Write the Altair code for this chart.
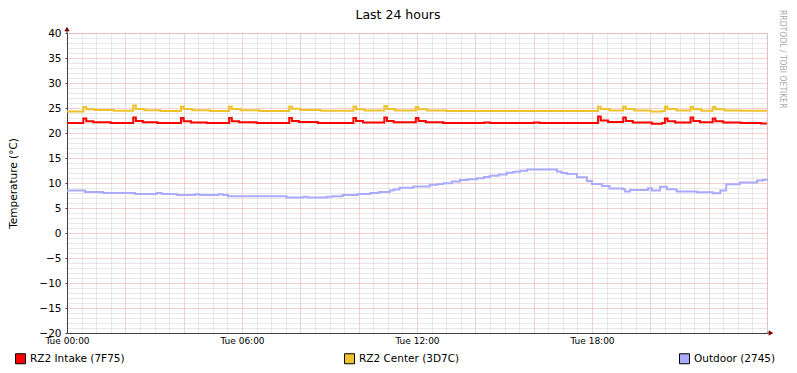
import altair as alt
import pandas as pd

TITLE = "Last 24 hours"
Y_TITLE = "Temperature (°C)"
WATERMARK = "RRDTOOL / TOBI OETIKER"
SERIES = ["RZ2 Intake (7F75)", "RZ2 Center (3D7C)", "Outdoor (2745)"]
COLORS = ["#FF0000", "#EEC22A", "#AAAAFF"]
X_LABEL_PREFIX = "Tue"
X_LABEL_HOURS = [0, 6, 12, 18]
X_MAJOR_GRID = [0, 2, 4, 6, 8, 10, 12, 14, 16, 18, 20, 22, 24]
X_MINOR_GRID = [h / 2 for h in range(49) if h % 4 != 0]
Y_LABELS = [-20, -15, -10, -5, 0, 5, 10, 15, 20, 25, 30, 35, 40]
Y_MINOR_GRID = [v for v in range(-20, 41) if v % 5 != 0]

intake_hours = [0.00, 0.56, 0.66, 0.90, 1.50, 2.27, 2.36, 2.60, 3.10, 3.91, 4.00, 4.25, 4.80,
                5.56, 5.65, 5.90, 6.50, 7.62, 7.71, 7.95, 8.60, 9.82, 9.91, 10.15, 10.88,
                10.97, 11.20, 11.96, 12.05, 12.30, 12.90, 14.30, 14.50, 16.00, 16.20, 18.21,
                18.30, 18.55, 19.07, 19.16, 19.40, 20.05, 20.40, 20.50, 20.59, 20.85, 21.38,
                21.47, 21.70, 22.14, 22.23, 22.50, 23.10, 23.80, 24.00]
intake_temp = [22.0, 22.9, 22.35, 22.15, 22.0, 23.1, 22.4, 22.15, 22.0, 23.0, 22.35, 22.1, 22.0,
               23.0, 22.35, 22.15, 22.0, 23.0, 22.4, 22.2, 22.0, 23.0, 22.4, 22.1, 23.1,
               22.4, 22.15, 23.0, 22.4, 22.15, 22.0, 22.1, 22.0, 22.1, 22.0, 23.3,
               22.5, 22.2, 23.1, 22.4, 22.1, 21.85, 22.0, 22.9, 22.35, 22.1, 23.1,
               22.4, 22.15, 22.9, 22.35, 22.1, 22.0, 21.9, 21.9]

center_hours = [0.00, 0.56, 0.66, 0.95, 1.60, 2.27, 2.36, 2.65, 3.20, 3.91, 4.00, 4.30, 4.90,
                5.56, 5.65, 5.95, 6.60, 7.62, 7.71, 8.00, 8.70, 9.82, 9.91, 10.20, 10.88,
                10.97, 11.25, 11.96, 12.05, 12.35, 13.00, 18.21, 18.30, 18.60, 19.07, 19.16,
                19.45, 20.00, 20.40, 20.50, 20.59, 20.90, 21.38, 21.47, 21.75, 22.14, 22.23,
                22.55, 23.10, 24.00]
center_temp = [24.3, 25.2, 24.75, 24.6, 24.45, 25.5, 24.8, 24.55, 24.4, 25.3, 24.8, 24.55, 24.4,
               25.3, 24.8, 24.55, 24.4, 25.3, 24.85, 24.6, 24.45, 25.3, 24.75, 24.5, 25.4,
               24.8, 24.5, 25.2, 24.75, 24.5, 24.4, 25.3, 24.8, 24.5, 25.3, 24.8,
               24.5, 24.3, 24.4, 25.3, 24.8, 24.5, 25.2, 24.75, 24.45, 25.2, 24.75,
               24.5, 24.45, 24.45]

outdoor_hours = [0.00, 0.62, 1.23, 2.33, 3.07, 3.25, 3.76, 4.40, 4.55, 5.20, 5.35, 5.52, 7.53,
                 8.10, 8.25, 8.90, 9.10, 9.45, 9.97, 10.40, 10.70, 11.07, 11.20, 11.40, 11.87,
                 12.44, 12.70, 12.90, 13.20, 13.47, 13.75, 14.06, 14.30, 14.50, 14.80, 15.08,
                 15.30, 15.53, 15.77, 16.80, 16.95, 17.14, 17.48, 17.83, 18.00, 18.34, 18.60,
                 19.06, 19.13, 19.30, 19.92, 20.05, 20.33, 20.57, 20.90, 21.60, 22.15, 22.40,
                 22.60, 23.07, 23.66, 23.86, 24.00]
outdoor_temp = [8.5, 8.2, 8.0, 7.8, 8.0, 7.8, 7.6, 7.75, 7.6, 7.75, 7.6, 7.35, 7.1,
                7.25, 7.1, 7.25, 7.35, 7.6, 7.8, 8.0, 8.2, 8.5, 8.7, 9.05, 9.3,
                9.65, 9.8, 9.95, 10.3, 10.6, 10.75, 10.95, 11.2, 11.45, 11.7, 12.05,
                12.25, 12.45, 12.7, 12.3, 12.0, 11.8, 11.15, 10.4, 9.8, 9.4, 8.9,
                8.75, 8.3, 8.6, 8.95, 8.5, 9.25, 8.75, 8.3, 8.15, 7.95, 8.5,
                9.75, 10.1, 10.5, 10.65, 10.8]

df = pd.concat([
    pd.DataFrame({"hour": intake_hours, "temp": intake_temp, "series": SERIES[0]}),
    pd.DataFrame({"hour": center_hours, "temp": center_temp, "series": SERIES[1]}),
    pd.DataFrame({"hour": outdoor_hours, "temp": outdoor_temp, "series": SERIES[2]}),
], ignore_index=True)

FONT = "DejaVu Sans"
AXIS_COLOR = "#404040"
ARROW_COLOR = "#7F0000"

xs = alt.Scale(domain=[0, 24], nice=False, zero=False)
ys = alt.Scale(domain=[-20, 40], nice=False, zero=False)

x_minor = alt.Axis(orient="bottom", values=X_MINOR_GRID, grid=True, gridColor="#D0D0D0",
                   gridDash=[1, 1], gridWidth=1, labels=False, ticks=False, domain=False, title=None)
y_minor = alt.Axis(orient="left", values=Y_MINOR_GRID, grid=True, gridColor="#D0D0D0",
                   gridDash=[1, 1], gridWidth=1, labels=False, ticks=False, domain=False, title=None)
x_major = alt.Axis(orient="bottom", values=X_MAJOR_GRID, grid=True, gridColor="#E8A0A0",
                   gridDash=[1, 1], gridWidth=1, labels=False, ticks=False, domain=False, title=None)
y_major = alt.Axis(orient="left", values=Y_LABELS, grid=True, gridColor="#E8A0A0",
                   gridDash=[1, 1], gridWidth=1, labels=False, ticks=False, domain=False, title=None)
x_main = alt.Axis(orient="bottom", values=X_LABEL_HOURS, grid=False, ticks=False, domain=True,
                  domainColor=AXIS_COLOR, domainWidth=1, labelFont=FONT, labelFontSize=9,
                  labelColor="black", labelPadding=3, labelFlush=False, labelOverlap=False,
                  labelExpr=f"'{X_LABEL_PREFIX} ' + (datum.value < 10 ? '0' : '') + datum.value + ':00'",
                  title=None)
y_main = alt.Axis(orient="left", values=Y_LABELS, grid=False, ticks=True, tickSize=2,
                  tickColor=AXIS_COLOR, domain=True, domainColor=AXIS_COLOR, domainWidth=1,
                  labelFont=FONT, labelFontSize=10.5, labelColor="black", labelPadding=4,
                  title=Y_TITLE, titleFont=FONT, titleFontSize=10.5, titleFontWeight="normal",
                  titleColor="black", titleX=-54, titleY=150, titleAngle=270,
                  titleAlign="center", titleBaseline="middle")


def line_layer(idx, xaxis, yaxis):
    return alt.Chart(df).transform_filter(alt.datum.series == SERIES[idx]).mark_line(
        interpolate="step-after", strokeWidth=2, color=COLORS[idx]
    ).encode(
        x=alt.X("hour:Q", scale=xs, axis=xaxis),
        y=alt.Y("temp:Q", scale=ys, axis=yaxis),
        detail="series:N",
    )


l_intake = line_layer(0, x_minor, y_minor)
l_center = line_layer(1, x_major, y_major)
l_outdoor = line_layer(2, x_main, y_main)

legend_layer = alt.Chart(df).transform_filter("false").mark_square(
    opacity=1, stroke="black", strokeWidth=1
).encode(
    fill=alt.Fill("series:N", scale=alt.Scale(domain=SERIES, range=COLORS),
                  legend=alt.Legend(orient="none", legendX=-52, legendY=320, direction="horizontal",
                                    title=None, symbolType="square", symbolSize=100,
                                    symbolStrokeWidth=1, labelFont=FONT, labelFontSize=10.5,
                                    labelColor="black", labelOffset=4, columnPadding=217,
                                    labelLimit=300))
)

one = pd.DataFrame({"title": [TITLE], "mark": [WATERMARK]})

title_layer = alt.Chart(one).mark_text(font=FONT, fontSize=12.5, color="black",
                                        baseline="middle", align="center").encode(
    x=alt.value(331), y=alt.value(-18), text="title:N")

wm_layer = alt.Chart(one).mark_text(font="DejaVu Sans Condensed", fontSize=8.5, color="#ABABAB",
                                     angle=90, align="left", baseline="middle").encode(
    x=alt.value(716), y=alt.value(-23), text="mark:N")

y_ext = alt.Chart(one).mark_rule(color=AXIS_COLOR, strokeWidth=1).encode(
    x=alt.value(0), y=alt.value(-4), y2=alt.value(0))
x_ext = alt.Chart(one).mark_rule(color=AXIS_COLOR, strokeWidth=1).encode(
    x=alt.value(700), x2=alt.value(704), y=alt.value(300))
y_arrow = alt.Chart(one).mark_point(shape="triangle-up", filled=True, color=ARROW_COLOR,
                                     size=28, opacity=1).encode(x=alt.value(0), y=alt.value(-4))
x_arrow = alt.Chart(one).mark_point(shape="triangle-right", filled=True, color=ARROW_COLOR,
                                     size=28, opacity=1).encode(x=alt.value(704), y=alt.value(300))

chart = alt.layer(
    l_intake, l_center, l_outdoor, legend_layer, title_layer, wm_layer,
    y_ext, x_ext, y_arrow, x_arrow
).resolve_axis(
    x="independent", y="independent"
).properties(
    width=700, height=300,
    autosize=alt.AutoSizeParams(type="none"),
    padding={"left": 59, "top": 25, "right": 22, "bottom": 32},
    background="white",
).configure_view(stroke="transparent").configure(font=FONT)

chart.save("out.html", embed_options={"renderer": "svg", "actions": False})
